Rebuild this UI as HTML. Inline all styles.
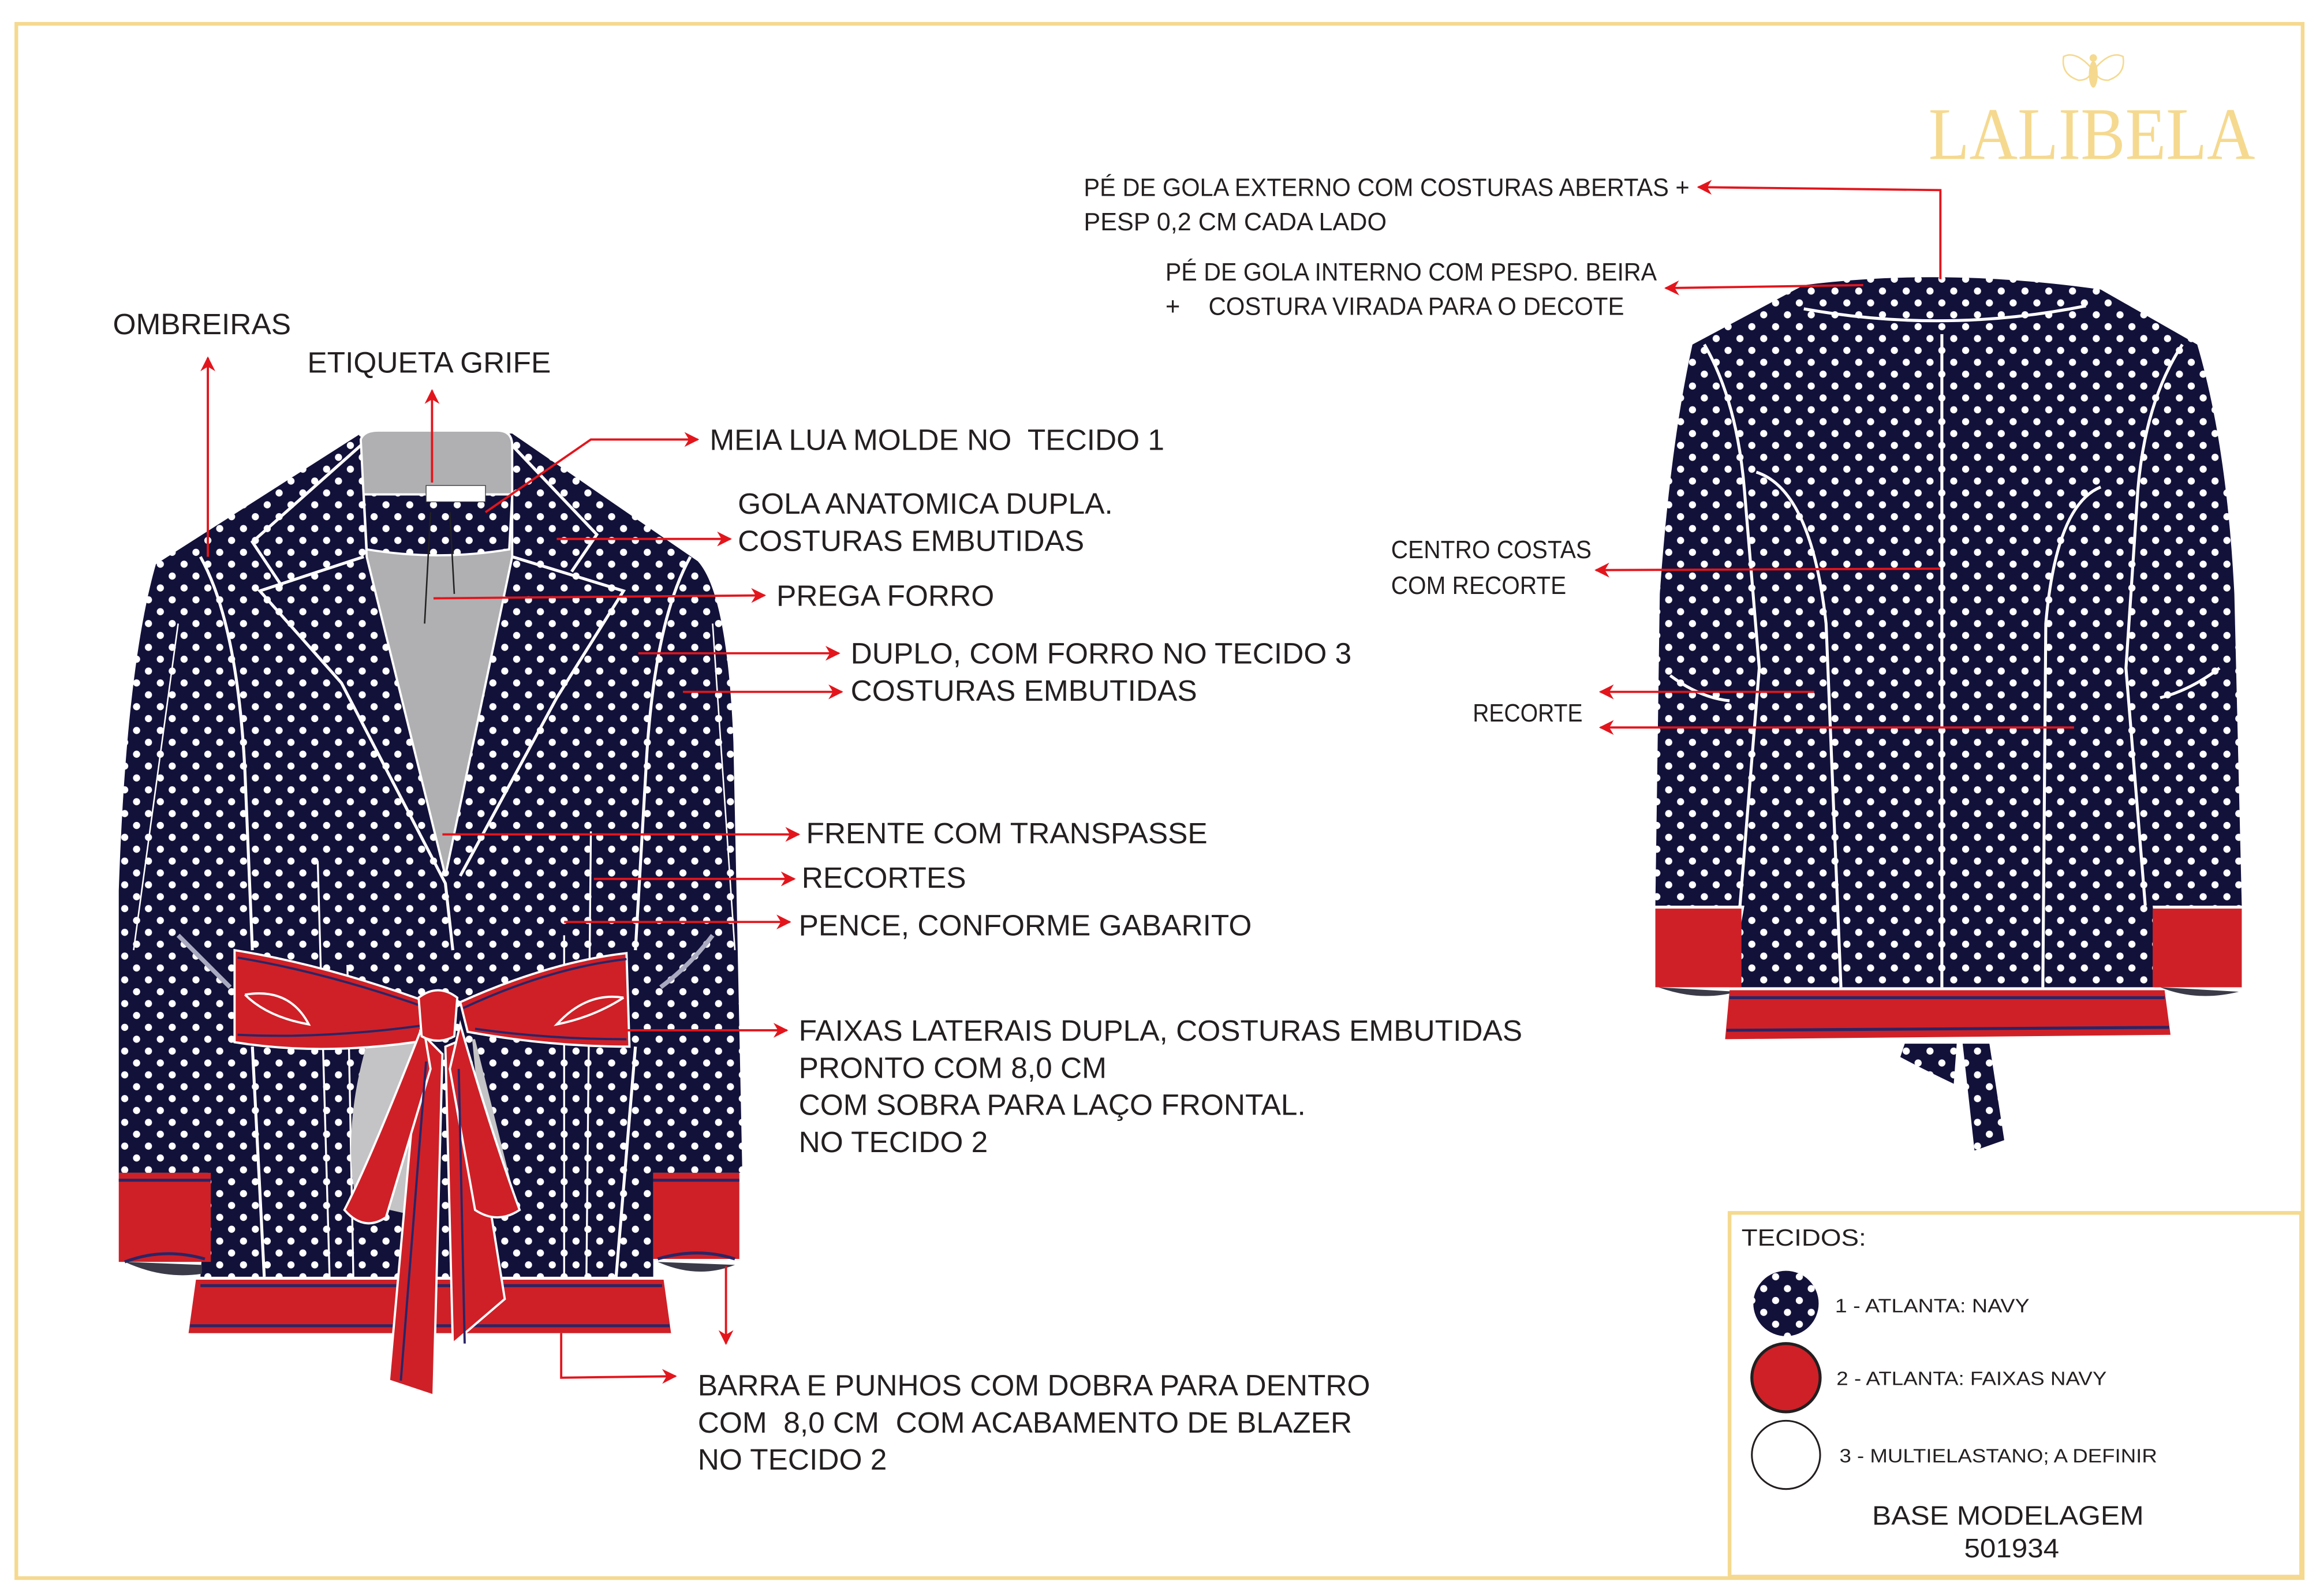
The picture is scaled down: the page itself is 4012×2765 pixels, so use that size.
<!DOCTYPE html>
<html><head><meta charset="utf-8"><style>
html,body{margin:0;padding:0;background:#fff;}
svg{display:block;}
text{font-family:"Liberation Sans",sans-serif;fill:#231f20;}
text.serif{font-family:"Liberation Serif",serif;}
</style></head><body>
<svg width="4012" height="2765" viewBox="0 0 1560 1075" xmlns="http://www.w3.org/2000/svg">
<defs>
<pattern id="dots" width="16" height="16" patternUnits="userSpaceOnUse">
<rect width="16" height="16" fill="#12113a"/>
<circle cx="4" cy="4" r="2.4" fill="#fff"/>
<circle cx="12" cy="12" r="2.4" fill="#fff"/>
</pattern>
<marker id="ar" markerWidth="10" markerHeight="10" refX="9" refY="5" orient="auto" markerUnits="userSpaceOnUse">
<path d="M0,0 L10,5 L0,10 L3,5 Z" fill="#e3151c"/>
</marker>
</defs>
<rect width="1560" height="1075" fill="#fff"/>
<rect x="11" y="16" width="1540" height="1047" fill="none" stroke="#f5d98f" stroke-width="2.5"/>

<!-- Logo -->
<g fill="none" stroke="#f5d98f" stroke-width="1">
<path d="M1408,45 Q1398,34 1390,38 Q1388,50 1400,54 Q1406,54 1408,50"/>
<path d="M1412,45 Q1422,34 1430,38 Q1432,50 1420,54 Q1414,54 1412,50"/>
</g>
<ellipse cx="1410" cy="50" rx="3" ry="9" fill="#f5d98f"/>
<circle cx="1410" cy="39" r="2.5" fill="#f5d98f"/>
<text class="serif" x="1299" y="107" font-size="50" style="fill:#f5d98f" textLength="220" lengthAdjust="spacingAndGlyphs">LALIBELA</text>

<!-- FRONT JACKET -->
<path d="M105,380 L243,292 L345,292 L470,378 Q490,400 494,500 L500,790 L440,790 L440,860 L135,860 L140,790 L80,790 L80,600 Q85,450 105,380 Z" fill="url(#dots)"/>
<path d="M243,296 Q245,290 255,290 L335,290 Q345,290 345,300 L345,375 L300,590 L247,375 Z" fill="#b0b0b2" stroke="#fff" stroke-width="1.5"/>
<path d="M245,333 L345,333 L343,370 Q295,378 247,370 Z" fill="url(#dots)" stroke="#fff" stroke-width="1.5"/>
<rect x="287" y="327" width="40" height="11" fill="#fff" stroke="#333" stroke-width="0.5"/>
<line x1="290" y1="345" x2="286" y2="420" stroke="#222" stroke-width="1"/>
<line x1="303" y1="345" x2="306" y2="400" stroke="#222" stroke-width="1"/>
<g fill="none" stroke="#fff" stroke-width="2">
<path d="M245,375 L175,398 L230,460 L300,595 L305,640"/>
<path d="M345,375 L420,398 L375,470 L310,590"/>
<path d="M243,300 L170,365 L190,395"/>
<path d="M345,300 L402,360 L385,385"/>
<path d="M135,375 Q160,420 165,520 L170,640"/>
<path d="M465,375 Q440,420 435,520 L428,640"/>
<path d="M170,705 L178,860 M428,705 L415,860"/>
<path d="M120,420 L90,640" stroke-width="1"/>
<path d="M480,420 L495,640" stroke-width="1"/>
</g>
<g fill="none" stroke="#fff" stroke-width="1.3">
<line x1="214" y1="580" x2="222" y2="860"/><line x1="234" y1="650" x2="238" y2="860"/>
<line x1="398" y1="560" x2="395" y2="860"/><line x1="380" y1="630" x2="380" y2="860"/>
</g>
<path d="M120,630 Q140,650 155,665" stroke="#a9a9c0" stroke-width="3" fill="none"/>
<path d="M445,665 Q465,650 480,630" stroke="#a9a9c0" stroke-width="3" fill="none"/>
<path d="M248,700 Q230,760 240,810 L285,820 L290,700 Z" fill="#c4c4c6"/>
<path d="M320,700 L345,800 L330,820 L318,700Z" fill="#c4c4c6"/>
<rect x="80" y="790" width="62" height="60" fill="#cf2027"/>
<line x1="80" y1="795" x2="142" y2="795" stroke="#2a2566" stroke-width="2"/>
<path d="M84,850 Q110,840 138,848" stroke="#2a2566" stroke-width="2" fill="none"/>
<rect x="440" y="790" width="58" height="58" fill="#cf2027"/>
<line x1="440" y1="795" x2="498" y2="795" stroke="#2a2566" stroke-width="2"/>
<path d="M443,848 Q470,840 495,848" stroke="#2a2566" stroke-width="2" fill="none"/>
<path d="M84,850 Q110,862 136,858 L136,852 Z" fill="#3a3a48"/>
<path d="M443,850 Q470,862 495,852 Z" fill="#3a3a48"/>
<path d="M132,862 L447,862 L452,898 L127,898 Z" fill="#cf2027"/>
<line x1="135" y1="866" x2="446" y2="866" stroke="#2a2566" stroke-width="2"/>
<line x1="128" y1="893" x2="451" y2="893" stroke="#2a2566" stroke-width="2"/>
<path d="M158,640 Q220,650 288,675 L300,690 L292,700 Q220,712 158,702 Z" fill="#cf2027" stroke="#fff" stroke-width="1.5"/>
<path d="M310,675 Q370,648 422,642 L424,705 Q370,705 315,695 Z" fill="#cf2027" stroke="#fff" stroke-width="1.5"/>
<path d="M160,645 Q220,655 288,679" stroke="#2a2566" stroke-width="1.5" fill="none"/>
<path d="M160,697 Q220,700 290,690" stroke="#2a2566" stroke-width="1.5" fill="none"/>
<path d="M312,679 Q370,652 422,646" stroke="#2a2566" stroke-width="1.5" fill="none"/>
<path d="M320,693 Q370,700 422,700" stroke="#2a2566" stroke-width="1.5" fill="none"/>
<path d="M165,670 Q195,665 208,690 Q180,685 165,670" fill="none" stroke="#fff" stroke-width="1.5"/>
<path d="M420,672 Q395,668 375,690 Q400,685 420,672" fill="none" stroke="#fff" stroke-width="1.5"/>
<path d="M283,695 L262,930 L292,940 L298,710 Z" fill="#cf2027" stroke="#fff" stroke-width="1.5"/>
<path d="M300,705 L305,905 L340,875 L312,700 Z" fill="#cf2027" stroke="#fff" stroke-width="1.5"/>
<path d="M285,690 Q250,780 232,815 Q245,830 260,820 L290,720 Z" fill="#cf2027" stroke="#fff" stroke-width="1.5"/>
<path d="M310,690 Q330,760 350,815 Q335,825 320,815 L303,720 Z" fill="#cf2027" stroke="#fff" stroke-width="1.5"/>
<path d="M282,672 Q295,662 308,672 L306,698 Q295,704 284,698 Z" fill="#cf2027" stroke="#fff" stroke-width="1.5"/>
<line x1="287" y1="715" x2="270" y2="930" stroke="#2a2566" stroke-width="1.5"/>
<line x1="309" y1="720" x2="313" y2="905" stroke="#2a2566" stroke-width="1.5"/>

<!-- BACK JACKET -->
<path d="M1140,232 L1215,192 Q1310,180 1415,195 L1480,232 Q1500,300 1505,400 L1510,610 L1450,610 L1455,665 L1165,665 L1175,610 L1115,610 L1118,400 Q1125,300 1140,232 Z" fill="url(#dots)"/>
<g fill="none" stroke="#fff" stroke-width="2">
<path d="M1215,208 Q1310,225 1405,206"/>
<line x1="1308" y1="225" x2="1308" y2="665"/>
<path d="M1148,232 Q1170,270 1175,330 L1185,450 L1172,610"/>
<path d="M1470,232 Q1445,270 1440,330 L1432,450 L1445,610"/>
<path d="M1183,318 Q1220,330 1230,420 L1240,665"/>
<path d="M1415,328 Q1385,340 1378,420 L1376,665"/>
</g>
<path d="M1125,455 Q1145,470 1165,472" stroke="#fff" stroke-width="2" fill="none"/>
<path d="M1455,470 Q1475,465 1495,450" stroke="#fff" stroke-width="2" fill="none"/>
<rect x="1115" y="612" width="58" height="53" fill="#cf2027"/>
<rect x="1450" y="612" width="60" height="53" fill="#cf2027"/>
<path d="M1117,665 Q1145,675 1170,668 Z" fill="#3a3a48"/>
<path d="M1455,665 Q1480,675 1508,668 Z" fill="#3a3a48"/>
<path d="M1165,667 L1458,667 L1462,697 L1162,700 Z" fill="#cf2027"/>
<line x1="1165" y1="672" x2="1458" y2="672" stroke="#2a2566" stroke-width="2"/>
<line x1="1163" y1="694" x2="1461" y2="692" stroke="#2a2566" stroke-width="2"/>
<path d="M1283,703 L1318,703 L1316,730 Q1295,720 1280,712 Z" fill="url(#dots)"/>
<path d="M1322,703 L1340,703 L1350,768 L1330,775 Z" fill="url(#dots)"/>

<!-- ARROWS -->
<g stroke="#e3151c" stroke-width="1.5" fill="none">
<path d="M140,375 L140,241" marker-end="url(#ar)"/>
<path d="M291,325 L291,263" marker-end="url(#ar)"/>
<path d="M327,345 L398,296 L470,296" marker-end="url(#ar)"/>
<path d="M375,363 L492,363" marker-end="url(#ar)"/>
<path d="M292,403 L515,401" marker-end="url(#ar)"/>
<path d="M430,440 L565,440" marker-end="url(#ar)"/>
<path d="M460,466 L567,466" marker-end="url(#ar)"/>
<path d="M298,562 L538,562" marker-end="url(#ar)"/>
<path d="M400,592 L535,592" marker-end="url(#ar)"/>
<path d="M380,621 L532,621" marker-end="url(#ar)"/>
<path d="M420,694 L530,694" marker-end="url(#ar)"/>
<path d="M378,898 L378,928 L455,927" marker-end="url(#ar)"/>
<path d="M489,853 L489,905" marker-end="url(#ar)"/>
<path d="M1307,188 L1307,128 L1144,126" marker-end="url(#ar)"/>
<path d="M1255,192 L1122,194" marker-end="url(#ar)"/>
<path d="M1307,383 L1075,384" marker-end="url(#ar)"/>
<path d="M1222,466 L1078,466" marker-end="url(#ar)"/>
<path d="M1397,490 L1078,490" marker-end="url(#ar)"/>
</g>

<!-- TEXT -->
<g font-size="20">
<text x="76" y="225">OMBREIRAS</text>
<text x="207" y="251">ETIQUETA GRIFE</text>
<text x="478" y="303" xml:space="preserve">MEIA LUA MOLDE NO  TECIDO 1</text>
<text x="497" y="346">GOLA ANATOMICA DUPLA.</text>
<text x="497" y="371">COSTURAS EMBUTIDAS</text>
<text x="523" y="408">PREGA FORRO</text>
<text x="573" y="447">DUPLO, COM FORRO NO TECIDO 3</text>
<text x="573" y="472">COSTURAS EMBUTIDAS</text>
<text x="543" y="568">FRENTE COM TRANSPASSE</text>
<text x="540" y="598">RECORTES</text>
<text x="538" y="630">PENCE, CONFORME GABARITO</text>
<text x="538" y="701">FAIXAS LATERAIS DUPLA, COSTURAS EMBUTIDAS</text>
<text x="538" y="726">PRONTO COM 8,0 CM</text>
<text x="538" y="751">COM SOBRA PARA LAÇO FRONTAL.</text>
<text x="538" y="776">NO TECIDO 2</text>
<text x="470" y="940">BARRA E PUNHOS COM DOBRA PARA DENTRO</text>
<text x="470" y="965" xml:space="preserve">COM  8,0 CM  COM ACABAMENTO DE BLAZER</text>
<text x="470" y="990">NO TECIDO 2</text>
</g>
<g font-size="17">
<text x="730" y="132" textLength="408" lengthAdjust="spacingAndGlyphs">PÉ DE GOLA EXTERNO COM COSTURAS ABERTAS +</text>
<text x="730" y="155" textLength="204" lengthAdjust="spacingAndGlyphs">PESP 0,2 CM CADA LADO</text>
<text x="785" y="189" textLength="331" lengthAdjust="spacingAndGlyphs">PÉ DE GOLA INTERNO COM PESPO. BEIRA</text>
<text x="785" y="212">+</text>
<text x="814" y="212" textLength="280" lengthAdjust="spacingAndGlyphs">COSTURA VIRADA PARA O DECOTE</text>
<text x="937" y="376" textLength="135" lengthAdjust="spacingAndGlyphs">CENTRO COSTAS</text>
<text x="937" y="400" textLength="118" lengthAdjust="spacingAndGlyphs">COM RECORTE</text>
<text x="992" y="486" textLength="74" lengthAdjust="spacingAndGlyphs">RECORTE</text>
</g>

<!-- LEGEND -->
<rect x="1165" y="817" width="385" height="245" fill="none" stroke="#f5d98f" stroke-width="2.5"/>
<text x="1173" y="839" font-size="16" textLength="84" lengthAdjust="spacingAndGlyphs">TECIDOS:</text>
<circle cx="1203" cy="878" r="22" fill="url(#dots)"/>
<circle cx="1203" cy="928" r="23" fill="#cf2027" stroke="#231f20" stroke-width="2"/>
<circle cx="1203" cy="980" r="23" fill="#fff" stroke="#231f20" stroke-width="1.2"/>
<text x="1236" y="884" font-size="13" textLength="131" lengthAdjust="spacingAndGlyphs">1 - ATLANTA: NAVY</text>
<text x="1237" y="933" font-size="13" textLength="182" lengthAdjust="spacingAndGlyphs">2 - ATLANTA: FAIXAS NAVY</text>
<text x="1239" y="985" font-size="13" textLength="214" lengthAdjust="spacingAndGlyphs">3 - MULTIELASTANO; A DEFINIR</text>
<text x="1261" y="1027" font-size="18" textLength="183" lengthAdjust="spacingAndGlyphs">BASE MODELAGEM</text>
<text x="1323" y="1049" font-size="18" textLength="64" lengthAdjust="spacingAndGlyphs">501934</text>
</svg>
</body></html>
